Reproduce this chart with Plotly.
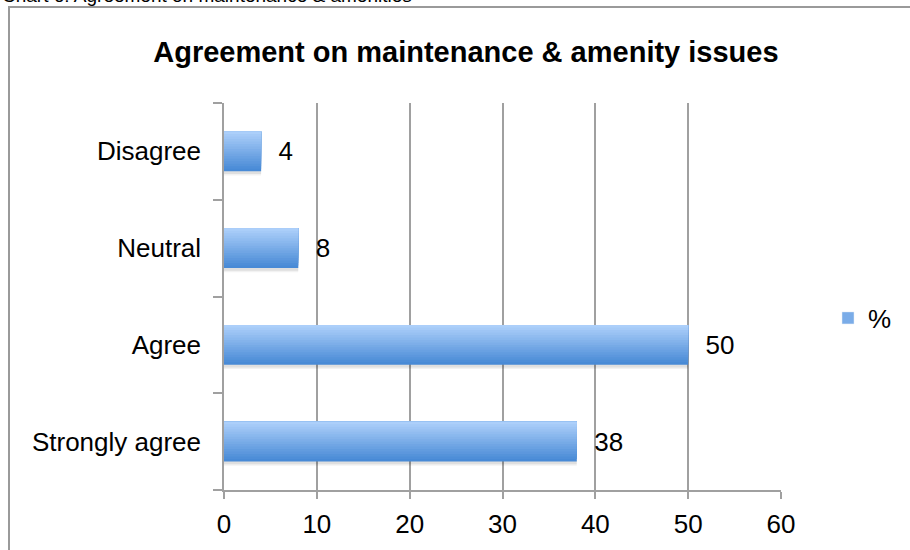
import plotly.graph_objects as go

categories = ["Strongly agree", "Agree", "Neutral", "Disagree"]
values = [38, 50, 8, 4]
series_name = "%"
x_ticks = [0, 10, 20, 30, 40, 50, 60]
title_text = "Agreement on maintenance & amenity issues"
caption_text = "Chart 6: Agreement on maintenance & amenities"

W, H = 910, 550
L, R, T, B = 224, 129, 103, 60
pw, ph = W - L - R, H - T - B
FONT = "Liberation Sans, Arial"

def px_to_paper_x(px):
    return (px - L) / pw

def px_to_paper_y(py):
    return (H - B - py) / ph

fig = go.Figure()

bar_w = 0.41

# soft shadow under bars
for j, a in enumerate([0.05, 0.08]):
    fig.add_trace(go.Bar(
        y=categories, x=values, orientation="h",
        width=bar_w, offset=-bar_w / 2 - 0.045 + j * 0.015,
        marker=dict(color="rgba(0,0,0,%.2f)" % a, line=dict(width=0)),
        showlegend=False, hoverinfo="skip",
    ))

# gradient bars via overlapping slices (bottom dark -> top light)
n = 16
top_c = (172, 207, 250)
bot_c = (72, 138, 214)
step = bar_w / n
for i in range(n):
    f = i / (n - 1)
    c = tuple(int(bot_c[k] + (top_c[k] - bot_c[k]) * f) for k in range(3))
    fig.add_trace(go.Bar(
        y=categories, x=values, orientation="h",
        width=bar_w - i * step, offset=-bar_w / 2 + i * step,
        marker=dict(color="rgb(%d,%d,%d)" % c, line=dict(width=0)),
        showlegend=False, hoverinfo="skip",
    ))

# main trace carrying labels
fig.add_trace(go.Bar(
    y=categories, x=values, orientation="h", name=series_name,
    width=bar_w, marker=dict(color="rgba(0,0,0,0)", line=dict(width=0)),
    text=["\u00a0\u00a0" + str(v) for v in values], textposition="outside",
    textfont=dict(size=26, color="black", family=FONT),
    cliponaxis=False, showlegend=False,
))
# legend entry
fig.add_trace(go.Bar(
    y=[None], x=[None], orientation="h", name=series_name,
    marker=dict(color="rgb(122,172,232)"), showlegend=True,
))

fig.update_layout(
    width=W, height=H,
    margin=dict(l=L, r=R, t=T, b=B, autoexpand=False),
    paper_bgcolor="white", plot_bgcolor="white",
    barmode="overlay",
    font=dict(family=FONT, size=26, color="black"),
    title=dict(text="<b>" + title_text + "</b>", x=0.512, xanchor="center",
               y=1 - 52 / H, yanchor="middle",
               font=dict(size=29, family=FONT, color="black")),
    legend=dict(x=px_to_paper_x(828), y=px_to_paper_y(318), xanchor="left",
                yanchor="middle", font=dict(size=26), itemwidth=30,
                bgcolor="rgba(0,0,0,0)"),
    xaxis=dict(range=[0, 60], tickvals=x_ticks, showgrid=True,
               gridcolor="#a0a0a0", gridwidth=1.5, showline=True,
               linecolor="#a0a0a0", linewidth=1.5, ticks="outside",
               ticklen=7, tickcolor="#a0a0a0", tickwidth=1.5,
               zeroline=False, tickfont=dict(size=26), fixedrange=True,
               ticklabelstandoff=3),
    yaxis=dict(categoryorder="array", categoryarray=categories,
               showline=True, linecolor="#a0a0a0", linewidth=1.5,
               ticks="outside", tickson="boundaries", ticklen=9,
               tickcolor="#a0a0a0", tickwidth=1.5, showgrid=False,
               tickfont=dict(size=26), ticklabelstandoff=16),
)

fig.add_shape(type="rect", xref="paper", yref="paper",
              x0=px_to_paper_x(9), x1=px_to_paper_x(930),
              y0=px_to_paper_y(570), y1=px_to_paper_y(7),
              line=dict(color="#9a9a9a", width=2), layer="below")

fig.add_annotation(text=caption_text, xref="paper", yref="paper",
                   x=px_to_paper_x(0), y=px_to_paper_y(8),
                   xanchor="left", yanchor="bottom", showarrow=False,
                   font=dict(size=19, color="black", family=FONT))

fig.write_html("out.html", config={"displayModeBar": False},
               post_script="document.body.style.margin='0';")
